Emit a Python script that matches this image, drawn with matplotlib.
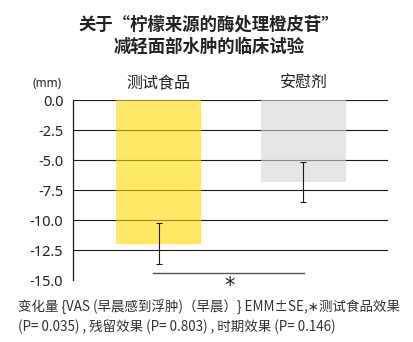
import numpy as np
import matplotlib.pyplot as plt

plt.rcParams['font.family'] = ['Noto Sans CJK SC', 'DejaVu Sans']

groups = ['测试食品', '安慰剂']
means = [-11.95, -6.8]
se = [1.72, 1.7]
bar_colors = ['#FFDA00', '#D5D5D5']
yticks = [0.0, -2.5, -5.0, -7.5, -10.0, -12.5, -15.0]

dark = '#231815'

fig = plt.figure(figsize=(4.14, 3.42), dpi=100)
ax = fig.add_axes([0.1763, 0.1804, 0.9372 - 0.1763, 0.7067 - 0.1804])

x = np.arange(len(groups))

# horizontal rules first, bars semi-transparent on top so the rules show through
for v in yticks[:-1]:
    ax.axhline(v, color=dark, lw=0.8, zorder=1)
ax.bar(x, means, width=0.59, color=bar_colors, alpha=0.6, zorder=2)
ax.errorbar(x, means, yerr=se, fmt='none', ecolor=dark, elinewidth=0.8,
            capsize=2.5, capthick=0.8, zorder=3)

ax.set_xlim(-0.59, 1.583)
ax.set_ylim(-15, 0)
ax.set_yticks(yticks)
ax.set_yticklabels([f'{v:.1f}' for v in yticks], fontsize=10.5,
                   family=['Noto Sans', 'DejaVu Sans'], color='#222222')
ax.tick_params(axis='y', length=0, pad=7)

ax.xaxis.tick_top()
ax.set_xticks(x)
ax.set_xticklabels(groups, fontsize=11.5, color='#222222')
ax.tick_params(axis='x', length=0, pad=6)

for s in ['top', 'right', 'bottom']:
    ax.spines[s].set_visible(False)
ax.spines['left'].set_color(dark)
ax.spines['left'].set_linewidth(0.9)

# significance bracket under the bars
ax.plot([-0.04, 1.003], [-14.37, -14.37], color='#555555', lw=1.0,
        clip_on=False, zorder=3)
ax.text(0.49, -15.5, '*', ha='center', va='center', fontsize=15,
        family=['DejaVu Sans'], color='#222222', clip_on=False)

fig.text(0.1135, 0.757, '(mm)', ha='center', va='center', fontsize=8.5,
         family=['Noto Sans', 'DejaVu Sans'], color='#222222')

fig.text(0.505, 0.927, '关于“柠檬来源的酶处理橙皮苷”', ha='center', va='center',
         fontsize=12.5, fontweight='bold', color='#222222')
fig.text(0.505, 0.862, '减轻面部水肿的临床试验', ha='center', va='center',
         fontsize=12.5, fontweight='bold', color='#222222')

fig.text(0.043, 0.102, '变化量 {VAS (早晨感到浮肿)（早晨）} EMM±SE,∗测试食品效果',
         ha='left', va='center', fontsize=9.7, color='#333333')
fig.text(0.043, 0.044, '(P= 0.035) , 残留效果 (P= 0.803) , 时期效果 (P= 0.146)',
         ha='left', va='center', fontsize=9.7, color='#333333')

fig.savefig('out.png', dpi=100)
